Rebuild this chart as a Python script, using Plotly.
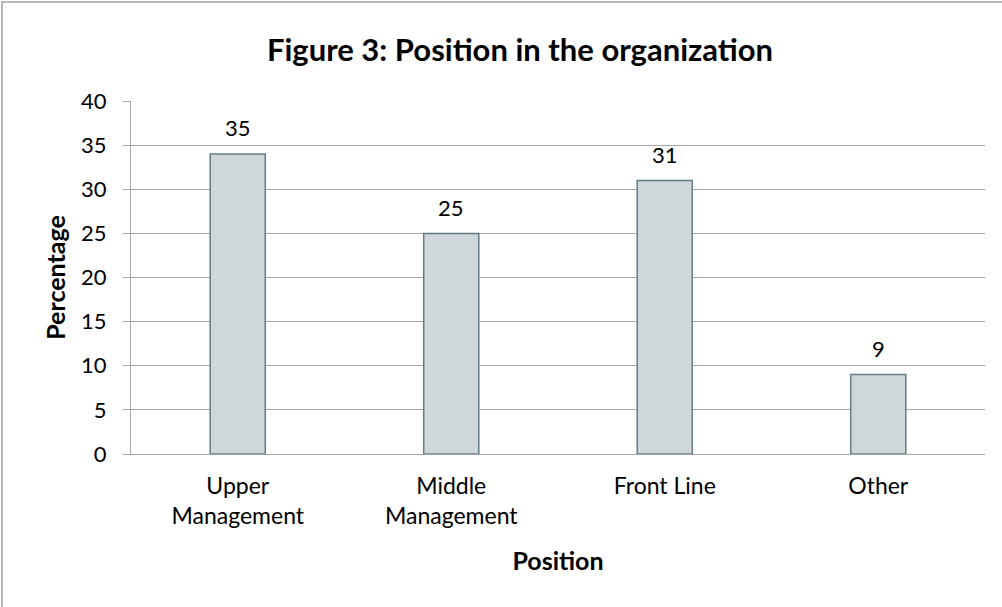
import plotly.graph_objects as go

# Data
categories = ["Upper<br>Management", "Middle<br>Management", "Front Line", "Other"]
bar_values = [34, 25, 31, 9]
label_texts = ["35", "25", "31", "9"]
y_ticks = [0, 5, 10, 15, 20, 25, 30, 35, 40]

font_family = "Lato, Noto Sans, sans-serif"
grid_color = "#a6a6a6"

fig = go.Figure()
fig.add_trace(go.Bar(
    x=categories,
    y=bar_values,
    marker=dict(color="#cfd7db", line=dict(color="#627d84", width=1.5)),
    hoverinfo="x+y",
))

# Data labels above the bars
for cat, val, txt in zip(categories, bar_values, label_texts):
    fig.add_annotation(x=cat, y=val, text=txt, showarrow=False,
                       yanchor="middle", yshift=26,
                       font=dict(size=22, color="black", family=font_family))

l, r, t, b = 131, 17, 101, 153
pw, ph = 1002 - l - r, 607 - t - b
# Outer chart border (only left/top visible in the crop)
fig.add_shape(type="rect", xref="paper", yref="paper",
              x0=(2 - l) / pw, x1=(1100 - l) / pw,
              y0=-(700 - 607 + b) / ph, y1=1 + (t - 2) / ph,
              line=dict(color="#a0a0a0", width=1.5), layer="below")

fig.update_layout(
    width=1002, height=607,
    margin=dict(l=l, r=r, t=t, b=b, autoexpand=False),
    paper_bgcolor="white", plot_bgcolor="white",
    bargap=0.742,
    showlegend=False,
    font=dict(family=font_family, color="black"),
    title=dict(text="<b>Figure 3: Position in the organization</b>",
               x=520 / 1002, xref="container", xanchor="center",
               y=1 - 50 / 607, yref="container", yanchor="middle",
               font=dict(size=31, family=font_family, color="black"),
               automargin=False),
)

fig.update_yaxes(
    range=[0, 40], tickvals=y_ticks, automargin=False,
    showgrid=True, gridcolor=grid_color, gridwidth=1,
    showline=True, linecolor=grid_color, linewidth=1,
    ticks="outside", ticklen=7, tickcolor=grid_color,
    ticklabelstandoff=12,
    tickfont=dict(size=22),
    zeroline=False,
    title=dict(text="<b>Percentage</b>", font=dict(size=25), standoff=8),
)
fig.update_xaxes(
    showline=True, linecolor=grid_color, linewidth=1, automargin=False,
    showgrid=False, ticks="", ticklabelstandoff=11,
    tickfont=dict(size=23),
    title=dict(text="<b>Position</b>", font=dict(size=25), standoff=24),
)

# drop the default page margin so the figure sits at the window's corner
fig.write_html("out.html", config={"displayModeBar": False},
               post_script="document.body.style.margin='0';")
